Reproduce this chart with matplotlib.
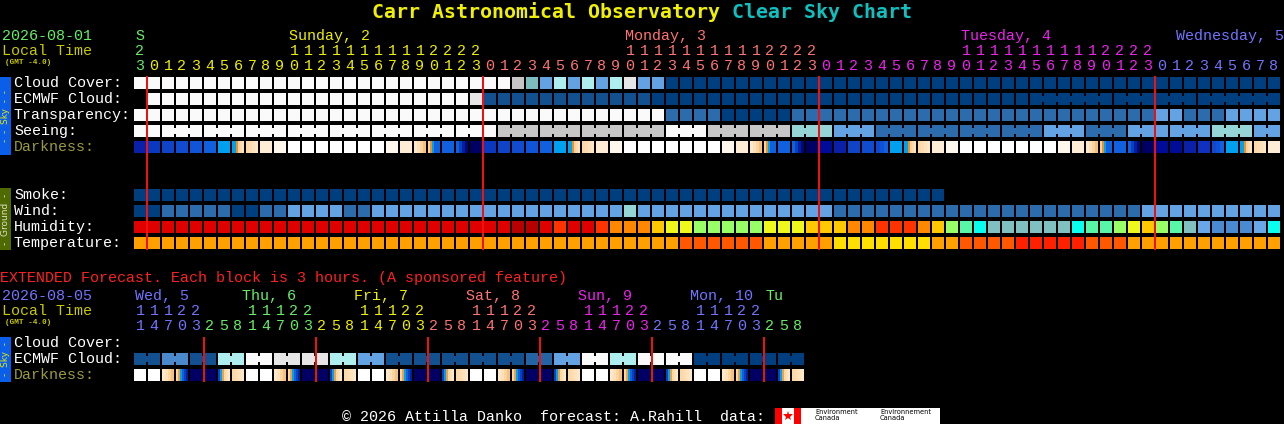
import matplotlib
matplotlib.use("Agg")
import matplotlib.pyplot as plt
from matplotlib.patches import Rectangle

# ---------------- data ----------------
main_hours = [23,
              0, 1, 2, 3, 4, 5, 6, 7, 8, 9, 10, 11, 12, 13, 14, 15, 16, 17, 18, 19, 20, 21, 22, 23,
              0, 1, 2, 3, 4, 5, 6, 7, 8, 9, 10, 11, 12, 13, 14, 15, 16, 17, 18, 19, 20, 21, 22, 23,
              0, 1, 2, 3, 4, 5, 6, 7, 8, 9, 10, 11, 12, 13, 14, 15, 16, 17, 18, 19, 20, 21, 22, 23,
              0, 1, 2, 3, 4, 5, 6, 7, 8]
main_days = ['S', 'Sunday, 2', 'Monday, 3', 'Tuesday, 4', 'Wednesday, 5']
main_day_colors = ['#66ee66', '#eeee00', '#ff7373', '#ee22ee', '#7373ff']

ext_hours = [11, 14, 17, 20, 23,
             2, 5, 8, 11, 14, 17, 20, 23,
             2, 5, 8, 11, 14, 17, 20, 23,
             2, 5, 8, 11, 14, 17, 20, 23,
             2, 5, 8, 11, 14, 17, 20, 23,
             2, 5, 8, 11, 14, 17, 20, 23,
             2, 5, 8]
ext_days = ['Wed, 5', 'Thu, 6', 'Fri, 7', 'Sat, 8', 'Sun, 9', 'Mon, 10', 'Tu']
ext_day_colors = ['#7373ff', '#66ee66', '#eeee00', '#ff7373', '#ee22ee', '#7373ff', '#66ee66']

# cloud levels 0 (clear) .. 10 (overcast)
cloud_pal = ['#003f7f', '#13508f', '#2464a4', '#4a8acc', '#63a3e3', '#7dbdbd',
             '#97d7d7', '#aeeeee', '#c6c6c6', '#e6e6e6', '#fafafa']
cloud_cover = [10] * 27 + [8, 5, 4, 7, 4, 7, 4, 7, 9, 4, 4] + [0] * 44
ecmwf_cloud = [None] + [10] * 23 + [9] + [1] * 12 + [0] * 45
ecmwf_groups = [(64, 69), (70, 75), (76, 81)]

# transparency / seeing: 0 best .. 5 too cloudy
sky_pal = ['#003f7f', '#2c6cac', '#63a3e3', '#95d5d5', '#c7c7c7', '#fafafa']
transparency = [5] * 38 + [1] * 4 + [0] * 5 + [1] * 26 + [2, 2] + [1, 1, 1] + [2] * 4
seeing = ([5] * 26 + [4] * 12 + [5] * 3 + [4] * 6 + [3] * 3 + [2] * 3 + [1] * 12
          + [2] * 3 + [1] * 3 + [2] * 6 + [3] * 3 + [2] * 2)

dark_pal = {
    'W': ['#ffffff'],
    'p1': ['#fff6ec'],
    'p2': ['#feecd6'],
    'p3': ['#fcd8a8', '#fddcb0', '#fde2bc', '#fee8c8'],
    'p4': ['#fee8cc', '#fde0b8', '#fcd4a0', '#f8c080'],
    'sr': ['#00a0f0', '#00a0f0', '#f09020', '#fad0a0', '#fcdab0', '#fde2c0'],
    'ss': ['#fcd0a0', '#f09020', '#00a0f0', '#1060e0', '#1060e0', '#1060e0'],
    'sr3': ['#0840c8', '#00a0f0', '#f0a040', '#fcd8a8', '#fde0b8', '#fee8c8'],
    'ss3': ['#fcd8a8', '#f0a040', '#00a0f0', '#1060e0', '#0840c0', '#0020a0'],
    'tw': ['#00a0f0'],
    'b0': ['#0a38c0'], 'b1': ['#1044c8'], 'b2': ['#104cd0'], 'b3': ['#1054d8'], 'b4': ['#1060e0'],
    'g': ['#1060e0', '#0840c0', '#0020a0', '#000878'],
    'g4': ['#1048d0', '#1050d8', '#1060e0'],
    'n': ['#000064'], 'n1': ['#000c98'], 'n2': ['#0a20a8'], 'n3': ['#1030c0'],
}
darkness = (['n2']
            + ['b0', 'b1', 'b2', 'b3', 'b4', 'tw', 'sr', 'p3', 'p2', 'p1', 'W', 'W', 'W', 'W', 'W', 'W', 'W',
               'p1', 'p2', 'p4', 'ss', 'b4', 'g', 'n']
            + ['b0', 'b1', 'b2', 'b3', 'b4', 'tw', 'sr', 'p3', 'p2', 'p1', 'W', 'W', 'W', 'W', 'W', 'W', 'W',
               'p1', 'p2', 'p4', 'ss', 'b4', 'g', 'n']
            + ['n1', 'n2', 'b1', 'b2', 'g4', 'tw', 'sr', 'p3', 'p2', 'p1', 'W', 'W', 'W', 'W', 'W', 'W', 'W',
               'p1', 'p2', 'p4', 'ss', 'b4', 'g', 'n']
            + ['n1', 'n1', 'n2', 'n3', 'g4', 'tw', 'sr', 'p3', 'p2'])

smoke = [0] * 58 + [None] * 24
wind_pal = ['#003f7f', '#2c6cac', '#63a3e3', '#95d5d5']
wind = ([0, 0, 1, 1, 1, 1, 1, 0, 0, 1, 1, 2, 2, 2, 2, 1, 1, 2, 2, 2, 2]
        + [2] * 14 + [3] + [2] * 14 + [1] * 22 + [2] * 10)
hum_pal = ['#e00000', '#b80000', '#ff3300', '#ff8800', '#ffc800', '#eef81a',
           '#99ff66', '#57f7a7', '#08fff0', '#80c0c0', '#68a8e8', '#4a8ad0']
humidity = ([0] * 27 + [1, 1, 0, 2, 0, 0, 2, 3, 3, 3, 4, 5, 5] + [6] * 5
            + [5, 5, 5, 4, 4, 4, 3, 3, 2, 2, 2, 3, 4, 6, 7, 8] + [9] * 6
            + [8, 7, 7, 6, 5, 4, 6, 7, 9, 10, 11, 11, 11, 10, 8])
temp_pal = ['#ffa000', '#ff5800', '#ff2000', '#ffdf00']
temperature = [0] * 39 + [1] * 6 + [0] * 5 + [3] * 7 + [0] * 2 + [1] * 4 + [2] * 5 + [1] * 3 + [0] * 11

ext_ecmwf = [1, 1, 3, 3, 1, 1, 7, 7, 10, 10, 9, 9, 9, 9, 7, 7, 4, 4, 1, 1, 1, 1, 1, 1,
             1, 1, 1, 1, 2, 2, 4, 4, 10, 10, 7, 7, 10, 10, 10, 10, 0, 0, 0, 0, 0, 0, 0, 0]
ext_darkness = (['W', 'W', 'p4', 'ss3', 'n']
                + ['n', 'sr3', 'p3', 'W', 'W', 'p4', 'ss3', 'n'] * 5
                + ['n', 'sr3', 'p3'])

# ---------------- layout ----------------
X0, PITCH, CELL = 134, 14, 12
MONO = ['Liberation Mono', 'DejaVu Sans Mono']
FS = 10.8

fig = plt.figure(figsize=(12.84, 4.24), dpi=100)
fig.patch.set_facecolor('black')
ax = fig.add_axes([0, 0, 1, 1])
ax.set_facecolor('black')
ax.set_xlim(0, 1284)
ax.set_ylim(424, 0)
ax.axis('off')


def cx(i):
    return X0 + PITCH * i


def cell(i, top, colors):
    w = CELL / len(colors)
    for k, c in enumerate(colors):
        ax.add_patch(Rectangle((cx(i) + k * w, top), w + 0.05, CELL, color=c, lw=0))


def block_row(top, levels, pal, groups=()):
    for i, lv in enumerate(levels):
        if lv is None:
            continue
        c = pal[lv]
        cell(i, top, c if isinstance(c, list) else [c])
    for a, b in groups:
        for i in range(a, b):
            if i + 1 < len(levels) and levels[i] is not None and levels[i + 1] is not None:
                c = pal[levels[i]]
                ax.add_patch(Rectangle((cx(i) + CELL, top + 3), PITCH - CELL, 6,
                                       color=c if not isinstance(c, list) else c[-1], lw=0))


def txt(x, y, s, color, ha='left', size=FS, **kw):
    ax.text(x, y, s, color=color, fontsize=size, family=MONO, ha=ha, va='baseline', **kw)


def label(y_top, s, color='white'):
    txt(14, y_top + 10, s, color)


def hour_scale(hours, names, colors, y1, name_rule):
    segs = [[0]]
    for i in range(1, len(hours)):
        if hours[i] < hours[i - 1]:
            segs.append([])
        segs[-1].append(i)
    for seg, name, col in zip(segs, names, colors):
        for i in seg:
            h = hours[i]
            txt(cx(i) + 6, y1 + 30, str(h % 10), col, ha='center')
            if h >= 10:
                txt(cx(i) + 6, y1 + 15, str(h // 10), col, ha='center')
        name_rule(seg, name, col)


# title
ax.text(372, 18, 'Carr Astronomical Observatory ', color='#f0f000', fontsize=14.35,
        family='DejaVu Sans Mono', fontweight='bold', va='baseline')
ax.text(732, 18, 'Clear Sky Chart', color='#10c0c0', fontsize=14.35,
        family='DejaVu Sans Mono', fontweight='bold', va='baseline')

# main time header
txt(2, 40, '2026-08-01', '#66ee66')
txt(2, 55, 'Local Time', '#c8c800')
txt(5, 64, '(GMT -4.0)', '#c8c800', size=5.6, fontweight='bold')


def main_name(seg, name, col):
    hrs = [main_hours[i] for i in seg]
    if len(seg) == 1:
        txt(cx(seg[0]) + 6, 40, name, col, ha='center')
    elif 10 in hrs:
        txt(cx(seg[hrs.index(10)]) + 1, 40, name, col)
    else:
        txt(1284, 40, name, col, ha='right')


hour_scale(main_hours, main_days, main_day_colors, 40, main_name)

# main sky rows
rows_sky = [77, 93, 109, 125, 141]
block_row(rows_sky[0], cloud_cover, cloud_pal)
block_row(rows_sky[1], ecmwf_cloud, cloud_pal, ecmwf_groups)
block_row(rows_sky[2], transparency, sky_pal)
seeing_groups = [(0, 1)] + [(k, min(k + 2, len(seeing) - 1)) for k in range(2, len(seeing), 3)]
block_row(rows_sky[3], seeing, sky_pal, seeing_groups)
block_row(rows_sky[4], darkness, dark_pal)
for y, s in zip(rows_sky, ['Cloud Cover:', 'ECMWF Cloud:', 'Transparency:', 'Seeing:']):
    label(y, s)
label(rows_sky[4], 'Darkness:', '#9a9a3c')

# ground rows
rows_gnd = [189, 205, 221, 237]
block_row(rows_gnd[0], smoke, ['#003f7f'])
block_row(rows_gnd[1], wind, wind_pal)
block_row(rows_gnd[2], humidity, hum_pal)
block_row(rows_gnd[3], temperature, temp_pal)
for y, s in zip(rows_gnd, ['Smoke:', 'Wind:', 'Humidity:', 'Temperature:']):
    label(y, s)

# side bars
ax.add_patch(Rectangle((0, 77), 11, 78, color='#0a5ee8', lw=0))
ax.text(5.5, 116, '-  -  Sky  -  -', rotation=90, color='#e8e800', fontsize=6.5,
        ha='center', va='center')
ax.add_patch(Rectangle((0, 188), 11, 62, color='#4f6a00', lw=0))
ax.text(5.5, 219, '-  Ground  -', rotation=90, color='#e0e0d0', fontsize=6.5,
        ha='center', va='center')

# midnight lines
mid_main = [i for i in range(1, len(main_hours)) if main_hours[i] < main_hours[i - 1]]
ax.vlines([cx(i) - 1 for i in mid_main], 76, 250, color='#f01010', lw=1.44)

# ---------------- extended forecast ----------------
txt(0, 282, 'EXTENDED Forecast. Each block is 3 hours. (A sponsored feature)', '#ff2020')
txt(2, 300, '2026-08-05', '#7373ff')
txt(2, 315, 'Local Time', '#c8c800')
txt(5, 324, '(GMT -4.0)', '#c8c800', size=5.6, fontweight='bold')


def ext_name(seg, name, col):
    hrs = [ext_hours[i] for i in seg]
    if 11 in hrs:
        x = max(cx(seg[hrs.index(11)]) - 4, X0 + 1)
    else:
        x = cx(seg[0]) + 1
    txt(x, 300, name, col)


hour_scale(ext_hours, ext_days, ext_day_colors, 300, ext_name)

rows_ext = [337, 353, 369]
ext_groups = [(k, k + 1) for k in range(0, len(ext_ecmwf), 2)]
block_row(rows_ext[1], ext_ecmwf, cloud_pal, ext_groups)
block_row(rows_ext[2], ext_darkness, dark_pal)
label(rows_ext[0], 'Cloud Cover:')
label(rows_ext[1], 'ECMWF Cloud:')
label(rows_ext[2], 'Darkness:', '#9a9a3c')
ax.add_patch(Rectangle((0, 337), 11, 45, color='#0a5ee8', lw=0))
ax.text(5.5, 359, '-  Sky  -', rotation=90, color='#e8e800', fontsize=6.5, ha='center', va='center')
mid_ext = [i for i in range(1, len(ext_hours)) if ext_hours[i] < ext_hours[i - 1]]
ax.vlines([cx(i) for i in mid_ext], 337, 382, color='#f01010', lw=1.44)

# ---------------- footer ----------------
txt(342, 421, '\u00a9 2026 Attilla Danko  forecast: A.Rahill  data:', 'white')
ax.add_patch(Rectangle((775, 408), 26, 16, color='white', lw=0))
ax.add_patch(Rectangle((775, 408), 7, 16, color='#ff0000', lw=0))
ax.add_patch(Rectangle((794, 408), 7, 16, color='#ff0000', lw=0))
ax.plot([788], [416], marker='*', color='#ff0000', ms=7, mew=0)
ax.add_patch(Rectangle((801, 408), 139, 16, color='white', lw=0))
ax.text(815, 409, 'Environment\nCanada', color='black', fontsize=4.8, va='top', linespacing=0.95)
ax.text(880, 409, 'Environnement\nCanada', color='black', fontsize=4.8, va='top', linespacing=0.95)

fig.savefig('out.png', dpi=100, facecolor='black')
